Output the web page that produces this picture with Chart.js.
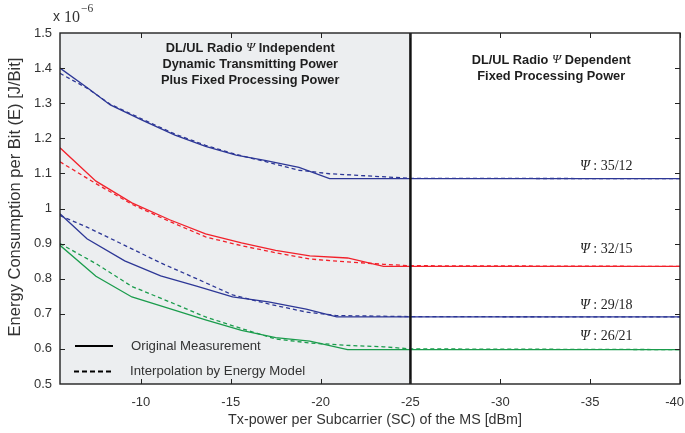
<!DOCTYPE html>
<html>
<head>
<meta charset="utf-8">
<script src="https://cdn.jsdelivr.net/npm/chart.js@4.4.1/dist/chart.umd.min.js"></script>
<style>
  html, body { margin: 0; padding: 0; background: #fff; }
  #wrap { width: 685px; height: 433px; }
</style>
</head>
<body>
<div id="wrap"><canvas id="energyChart" width="685" height="433"></canvas></div>
<script>
// Tx power per SC [dBm] and energy per bit [x 1e-6 J/Bit]
// Psi 35/12
const txA    = [-5.5, -7.0, -8.3, -10.1, -11.9, -13.6, -15.3, -16.9, -18.8, -20.5, -25, -40];
const measA  = [1.400, 1.345, 1.295, 1.251, 1.209, 1.177, 1.152, 1.137, 1.117, 1.085, 1.085, 1.085];
const modelA = [1.385, 1.343, 1.297, 1.254, 1.212, 1.180, 1.154, 1.134, 1.109, 1.099, 1.086, 1.085];
// Psi 32/15
const txB    = [-5.5, -7.5, -9.5, -11.6, -13.6, -15.6, -17.5, -19.4, -21.5, -23.5, -25, -40];
const measB  = [1.173, 1.078, 1.016, 0.968, 0.928, 0.902, 0.881, 0.865, 0.859, 0.835, 0.835, 0.835];
const modelB = [1.133, 1.071, 1.012, 0.963, 0.919, 0.894, 0.874, 0.856, 0.848, 0.841, 0.837, 0.835];
// Psi 29/18
const txC    = [-5.5, -7.0, -9.1, -11.1, -13.1, -15.1, -17.1, -19.2, -20.9, -25, -40];
const measC  = [0.985, 0.914, 0.851, 0.808, 0.779, 0.748, 0.734, 0.713, 0.691, 0.691, 0.691];
const modelC = [0.980, 0.947, 0.895, 0.845, 0.800, 0.754, 0.728, 0.705, 0.695, 0.692, 0.691];
// Psi 26/21
const txD    = [-5.5, -7.5, -9.5, -11.6, -13.6, -15.6, -17.5, -19.4, -21.5, -23.5, -25, -40];
const measD  = [0.895, 0.807, 0.748, 0.715, 0.683, 0.653, 0.632, 0.622, 0.598, 0.598, 0.598, 0.598];
const modelD = [0.900, 0.843, 0.778, 0.734, 0.691, 0.658, 0.628, 0.617, 0.610, 0.606, 0.600, 0.598];

const xTicks = [-10, -15, -20, -25, -30, -35, -40];
const yTicks = [0.5, 0.6, 0.7, 0.8, 0.9, 1.0, 1.1, 1.2, 1.3, 1.4, 1.5];
const splitTx = -25;
const ratioLabels = ['35/12', '32/15', '29/18', '26/21'];

const blue = '#2d3796';
const red = '#f2212b';
const green = '#1a9c4c';

const pts = (xs, ys) => xs.map((x, i) => ({x: x, y: ys[i]}));

function line(xs, ys, color, dashed) {
  return {
    data: pts(xs, ys),
    borderColor: color,
    borderWidth: 1.3,
    borderDash: dashed ? [4, 3] : [],
    pointRadius: 0,
    tension: 0,
    fill: false
  };
}

const sans = '"Liberation Sans", Arial, sans-serif';
const serif = '"Liberation Serif", "Times New Roman", serif';

// draws a row of differently styled text pieces
function drawRuns(ctx, runs, x, y, align) {
  let total = 0;
  runs.forEach(r => { ctx.font = r[1]; total += ctx.measureText(r[0]).width; });
  let cx = align === 'center' ? x - total / 2 : x;
  ctx.textAlign = 'left';
  ctx.textBaseline = 'middle';
  runs.forEach(r => {
    ctx.font = r[1];
    ctx.fillText(r[0], cx, y);
    cx += ctx.measureText(r[0]).width;
  });
}

const decor = {
  id: 'decor',
  beforeDatasetsDraw(chart) {
    const {ctx, chartArea: a, scales: {x}} = chart;
    const split = x.getPixelForValue(splitTx);
    ctx.save();
    ctx.fillStyle = '#eceef0';
    ctx.fillRect(a.left, a.top, split - a.left, a.bottom - a.top);
    ctx.restore();
  },
  afterDatasetsDraw(chart) {
    const {ctx, chartArea: a, scales: {x, y}} = chart;
    const split = x.getPixelForValue(splitTx);
    ctx.save();

    // divider
    ctx.strokeStyle = '#111';
    ctx.lineWidth = 2.5;
    ctx.beginPath();
    ctx.moveTo(split, a.top);
    ctx.lineTo(split, a.bottom);
    ctx.stroke();

    // frame + inward ticks
    ctx.lineWidth = 1.4;
    ctx.strokeStyle = '#222';
    ctx.strokeRect(a.left, a.top, a.right - a.left, a.bottom - a.top);
    ctx.lineWidth = 1;
    ctx.beginPath();
    xTicks.forEach(v => {
      const px = Math.round(x.getPixelForValue(v)) + 0.5;
      ctx.moveTo(px, a.bottom); ctx.lineTo(px, a.bottom - 5);
      ctx.moveTo(px, a.top); ctx.lineTo(px, a.top + 5);
    });
    yTicks.slice(1, -1).forEach(v => {
      const py = Math.round(y.getPixelForValue(v)) + 0.5;
      ctx.moveTo(a.left, py); ctx.lineTo(a.left + 5, py);
      ctx.moveTo(a.right, py); ctx.lineTo(a.right - 5, py);
    });
    ctx.stroke();

    // x tick labels (last one kept inside the canvas)
    ctx.fillStyle = '#333';
    ctx.font = '13px ' + sans;
    ctx.textAlign = 'center';
    ctx.textBaseline = 'middle';
    xTicks.forEach(v => {
      const t = String(v);
      const w = ctx.measureText(t).width;
      const px = Math.min(x.getPixelForValue(v), chart.width - w / 2 - 1);
      ctx.fillText(t, px, a.bottom + 18);
    });

    // region headings
    ctx.fillStyle = '#1e1e1e';
    const bold = 'bold 12.8px ' + sans;
    const psi = 'italic 13px ' + serif;
    const leftC = (a.left + split) / 2 + 15;
    drawRuns(ctx, [['DL/UL Radio ', bold], ['\u03A8', psi], [' Independent', bold]], leftC, 48, 'center');
    drawRuns(ctx, [['Dynamic Transmitting Power', bold]], leftC, 64, 'center');
    drawRuns(ctx, [['Plus Fixed Processing Power', bold]], leftC, 80, 'center');
    const rightC = (split + a.right) / 2 + 6;
    drawRuns(ctx, [['DL/UL Radio ', bold], ['\u03A8', psi], [' Dependent', bold]], rightC, 60, 'center');
    drawRuns(ctx, [['Fixed Processing Power', bold]], rightC, 76, 'center');

    // Psi ratio labels above the flat part of each curve
    const levels = [measA, measB, measC, measD].map(s => s[s.length - 1]);
    const lift = [12, 17, 12, 13];
    ctx.fillStyle = '#222';
    ratioLabels.forEach((t, i) => {
      const py = y.getPixelForValue(levels[i]) - lift[i];
      drawRuns(ctx, [['\u03A8', 'italic 14px ' + serif], [' : ' + t, '14px ' + serif]], 580, py, 'left');
    });

    // legend
    ctx.strokeStyle = '#000';
    ctx.lineWidth = 2;
    ctx.beginPath();
    ctx.moveTo(a.left + 15, 346); ctx.lineTo(a.left + 53, 346);
    ctx.stroke();
    ctx.setLineDash([5, 3]);
    ctx.beginPath();
    ctx.moveTo(a.left + 14, 371.5); ctx.lineTo(a.left + 53, 371.5);
    ctx.stroke();
    ctx.setLineDash([]);
    ctx.fillStyle = '#333';
    drawRuns(ctx, [['Original Measurement', '13.2px ' + sans]], a.left + 71, 346, 'left');
    drawRuns(ctx, [['Interpolation by Energy Model', '13.2px ' + sans]], a.left + 70, 371, 'left');

    // axis titles and exponent
    ctx.save();
    ctx.translate(15, 197);
    ctx.rotate(-Math.PI / 2);
    ctx.fillStyle = '#333';
    drawRuns(ctx, [['Energy Consumption per Bit (E) [J/Bit]', '16.5px ' + sans]], 0, 0, 'center');
    ctx.restore();
    ctx.fillStyle = '#333';
    drawRuns(ctx, [['Tx-power per Subcarrier (SC) of the MS [dBm]', '14.3px ' + sans]], (a.left + a.right) / 2 + 5, a.bottom + 36, 'center');
    ctx.textBaseline = 'alphabetic';
    ctx.font = '14px ' + sans;
    ctx.fillText('x', 53, 21);
    ctx.font = '16px ' + serif;
    ctx.fillText('10', 64, 22);
    ctx.font = '11.5px ' + serif;
    ctx.fillText('\u22126', 81, 12);

    ctx.restore();
  }
};

const ctx = document.getElementById('energyChart').getContext('2d');
const energyChart = new Chart(ctx, {
  type: 'line',
  data: {
    datasets: [
      line(txA, modelA, blue, true),
      line(txB, modelB, red, true),
      line(txC, modelC, blue, true),
      line(txD, modelD, green, true),
      line(txA, measA, blue, false),
      line(txB, measB, red, false),
      line(txC, measC, blue, false),
      line(txD, measD, green, false)
    ]
  },
  options: {
    responsive: false,
    animation: false,
    layout: { padding: { top: 33, right: 5, left: 0, bottom: 0 } },
    plugins: { legend: { display: false }, tooltip: { enabled: false } },
    scales: {
      x: {
        type: 'linear',
        reverse: true,
        min: -40,
        max: -5.5,
        afterBuildTicks: s => { s.ticks = xTicks.map(v => ({value: v})); },
        afterFit: s => { s.height = 49; s.paddingLeft = 0; s.paddingRight = 0; },
        grid: { display: false, drawTicks: false },
        border: { display: false },
        ticks: { display: false }
      },
      y: {
        min: 0.5,
        max: 1.5,
        afterBuildTicks: s => { s.ticks = yTicks.map(v => ({value: v})); },
        afterFit: s => { s.width = 60; s.paddingTop = 0; s.paddingBottom = 0; },
        grid: { display: false, drawTicks: false },
        border: { display: false },
        ticks: {
          padding: 8,
          color: '#333',
          font: { family: sans, size: 13 },
          callback: v => String(Math.round(v * 10) / 10)
        }
      }
    }
  },
  plugins: [decor]
});
</script>
</body>
</html>
